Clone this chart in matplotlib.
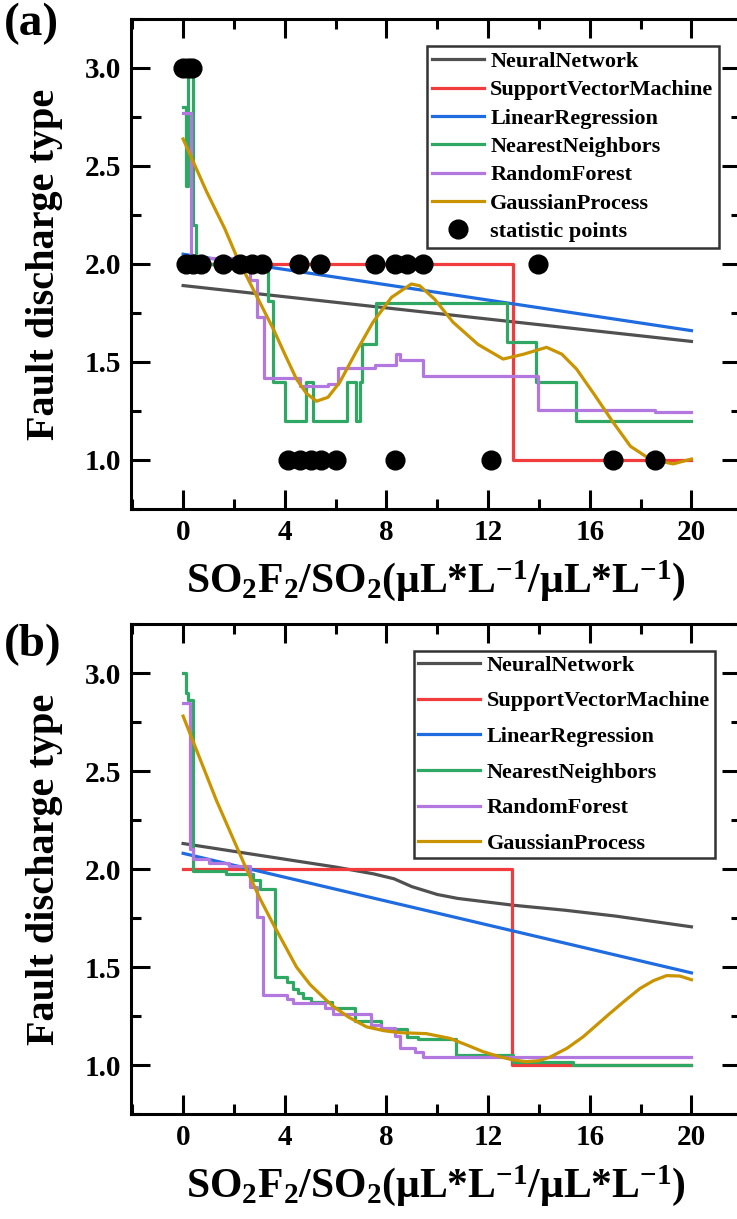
import matplotlib
matplotlib.use("Agg")
import matplotlib.pyplot as plt
from matplotlib.ticker import MultipleLocator, FormatStrFormatter

plt.rcParams['font.family'] = ['Liberation Serif', 'DejaVu Serif']
plt.rcParams['font.weight'] = 'bold'
plt.rcParams['axes.labelweight'] = 'bold'
plt.rcParams['mathtext.fontset'] = 'custom'
plt.rcParams['mathtext.rm'] = 'Liberation Serif:bold'
plt.rcParams['mathtext.it'] = 'Liberation Serif:bold'
plt.rcParams['mathtext.bf'] = 'Liberation Serif:bold'

# ---- panel (a) ----
a_nn_x = [0, 20]
a_nn_y = [1.89, 1.605]
a_svm_x = [0, 12.98, 20]
a_svm_y = [2.0, 1.0, 1.0]
a_lr_x = [0, 20]
a_lr_y = [2.05, 1.66]
a_knn_x = [0, 0.1, 0.2, 0.39, 0.5, 3.35, 3.54, 4.0, 4.85, 5.11, 6.43, 6.82, 6.95, 7.02, 7.6,
           12.75, 13.87, 15.44, 20]
a_knn_y = [2.8, 2.4, 3.0, 2.2, 2.0, 1.81, 1.40, 1.2, 1.40, 1.2, 1.40, 1.2, 1.40, 1.59, 1.80,
           1.60, 1.40, 1.2, 1.2]
a_rf_x = [0, 0.33, 2.62, 2.89, 3.17, 4.59, 5.7, 6.1, 7.54, 8.39, 8.52, 9.44, 13.97, 18.56, 20]
a_rf_y = [2.77, 2.03, 1.92, 1.73, 1.42, 1.38, 1.39, 1.47, 1.485, 1.54, 1.51, 1.43, 1.255, 1.247, 1.247]
a_gp_x = [0, 0.92, 1.64, 2.1, 2.8, 3.55, 4.0, 4.46, 4.85, 5.25, 5.7, 6.16, 6.8, 7.47, 8.2,
          8.98, 9.31, 9.9, 10.62, 11.6, 12.59, 13.4, 14.3, 14.9, 15.48, 16.2, 16.92, 17.6,
          18.36, 19.28, 20]
a_gp_y = [2.638, 2.37, 2.18, 2.04, 1.86, 1.668, 1.54, 1.413, 1.34, 1.30, 1.32, 1.396, 1.55,
          1.703, 1.83, 1.898, 1.889, 1.82, 1.703, 1.59, 1.515, 1.54, 1.575, 1.54, 1.464, 1.33,
          1.192, 1.07, 1.005, 0.98, 1.005]
stat_x = [0.0, 0.2, 0.35,
          0.1, 0.4, 0.7, 1.55, 2.25, 2.7, 3.1, 4.56, 5.38, 7.54, 8.33, 8.79, 9.42, 13.97,
          4.13, 4.59, 5.05, 5.44, 6.03, 8.33, 12.1, 16.9, 18.55]
stat_y = [3, 3, 3,
          2, 2, 2, 2, 2, 2, 2, 2, 2, 2, 2, 2, 2, 2,
          1, 1, 1, 1, 1, 1, 1, 1, 1]

# ---- panel (b) ----
b_nn_x = [0, 2, 4, 6, 7.5, 8.3, 9, 10, 10.8, 13, 15, 17, 20]
b_nn_y = [2.13, 2.09, 2.05, 2.01, 1.975, 1.95, 1.91, 1.87, 1.85, 1.815, 1.79, 1.76, 1.705]
b_svm_x = [0, 12.94, 20]
b_svm_y = [2.0, 1.0, 1.0]
b_lr_x = [0, 20]
b_lr_y = [2.08, 1.47]
b_knn_x = [0, 0.12, 0.2, 0.39, 1.7, 2.75, 3.02, 3.61, 4.07, 4.33, 4.52, 4.72, 5.05, 5.84,
           6.75, 7.8, 8.79, 9.25, 10.73, 12.98, 15.34, 20]
b_knn_y = [3.0, 2.9, 2.86, 1.99, 1.975, 1.945, 1.90, 1.45, 1.425, 1.39, 1.365, 1.34, 1.323,
           1.29, 1.226, 1.184, 1.145, 1.133, 1.05, 1.017, 1.0, 1.0]
b_rf_x = [0, 0.26, 0.39, 1.0, 1.8, 2.62, 2.89, 3.15, 4.07, 4.33, 5.6, 5.9, 7.41, 7.8, 8.33,
          8.52, 9.11, 9.44, 20]
b_rf_y = [2.845, 2.1, 2.05, 2.03, 2.015, 1.91, 1.757, 1.357, 1.335, 1.315, 1.29, 1.26, 1.204,
          1.187, 1.148, 1.085, 1.065, 1.04, 1.04]
b_gp_x = [0, 1.31, 2.49, 3.02, 3.54, 4.46, 5.0, 5.64, 5.9, 6.5, 7.21, 7.9, 8.52, 9.57, 10.49,
          11.2, 11.8, 12.46, 12.98, 13.5, 14.0, 14.43, 15.1, 15.74, 16.79, 17.4, 17.97, 18.5,
          19.02, 19.54, 20]
b_gp_y = [2.78, 2.35, 2.0, 1.85, 1.72, 1.50, 1.41, 1.33, 1.30, 1.245, 1.195, 1.175, 1.165,
          1.16, 1.136, 1.10, 1.068, 1.042, 1.026, 1.017, 1.022, 1.04, 1.085, 1.144, 1.263, 1.33,
          1.39, 1.43, 1.456, 1.454, 1.435]

names = ["NeuralNetwork", "SupportVectorMachine", "LinearRegression",
         "NearestNeighbors", "RandomForest", "GaussianProcess"]
colors = ["#505050", "#f03c3c", "#1f6be0", "#2ea862", "#b278e0", "#c99400"]
lw = 2.3

fig = plt.figure(figsize=(7.37, 12.19), dpi=100)
ax_a = fig.add_axes([131 / 737, 1 - 509 / 1219, 610 / 737, 490 / 1219])
ax_b = fig.add_axes([131 / 737, 1 - 1114 / 1219, 610 / 737, 490 / 1219])


def draw(ax, nn, svm, lr, knn, rf, gp):
    ax.plot(nn[0], nn[1], color=colors[0], lw=lw, label=names[0])
    ax.step(svm[0], svm[1], where='post', color=colors[1], lw=lw, label=names[1])
    ax.plot(lr[0], lr[1], color=colors[2], lw=lw, label=names[2])
    ax.step(knn[0], knn[1], where='post', color=colors[3], lw=lw, label=names[3])
    ax.step(rf[0], rf[1], where='post', color=colors[4], lw=lw, label=names[4])
    ax.plot(gp[0], gp[1], color=colors[5], lw=lw, label=names[5])


draw(ax_a, (a_nn_x, a_nn_y), (a_svm_x, a_svm_y), (a_lr_x, a_lr_y),
     (a_knn_x, a_knn_y), (a_rf_x, a_rf_y), (a_gp_x, a_gp_y))
ax_a.plot(stat_x, stat_y, 'o', color='black', ms=13.5, label="statistic points", zorder=5)

draw(ax_b, (b_nn_x, b_nn_y), (b_svm_x, b_svm_y), (b_lr_x, b_lr_y),
     (b_knn_x, b_knn_y), (b_rf_x, b_rf_y), (b_gp_x, b_gp_y))

xlab = r"SO$_\mathbf{2}$F$_\mathbf{2}$/SO$_\mathbf{2}$($\mathbf{\mu}$L*L$^\mathbf{-1}$/$\mathbf{\mu}$L*L$^\mathbf{-1}$)"
for ax in (ax_a, ax_b):
    ax.set_xlim(-2.05, 21.95)
    ax.set_ylim(0.75, 3.25)
    ax.xaxis.set_major_locator(MultipleLocator(4))
    ax.xaxis.set_minor_locator(MultipleLocator(2))
    ax.yaxis.set_major_locator(MultipleLocator(0.5))
    ax.yaxis.set_minor_locator(MultipleLocator(0.25))
    ax.yaxis.set_major_formatter(FormatStrFormatter('%.1f'))
    ax.tick_params(which='both', direction='in', top=True, right=True, width=2.2,
                   labelsize=21, pad=7)
    ax.tick_params(which='major', length=13.5)
    ax.tick_params(which='minor', length=7.5)
    for s in ax.spines.values():
        s.set_linewidth(2.2)
    ax.set_xlabel(xlab, fontsize=30, labelpad=9)
    ax.set_ylabel("Fault discharge type", fontsize=29, labelpad=16)

leg_a = ax_a.legend(loc='upper right', bbox_to_anchor=(0.964, 0.945), borderaxespad=0,
                    fontsize=16, frameon=True, fancybox=False, edgecolor='black',
                    labelspacing=0.35, handlelength=2.3, handletextpad=0.3,
                    borderpad=0.25, markerscale=1.0)
leg_a.get_frame().set_linewidth(1.8)
leg_b = ax_b.legend(loc='upper right', bbox_to_anchor=(0.957, 0.9455), borderaxespad=0,
                    fontsize=16, frameon=True, fancybox=False, edgecolor='black',
                    labelspacing=0.68, handlelength=2.8, handletextpad=0.3,
                    borderpad=0.2)
leg_b.get_frame().set_linewidth(1.8)

fig.text(4 / 737, 1 - 24 / 1219, "(a)", fontsize=34, va='center', ha='left')
fig.text(4 / 737, 1 - 645 / 1219, "(b)", fontsize=34, va='center', ha='left')

fig.savefig("out.png", dpi=100)
